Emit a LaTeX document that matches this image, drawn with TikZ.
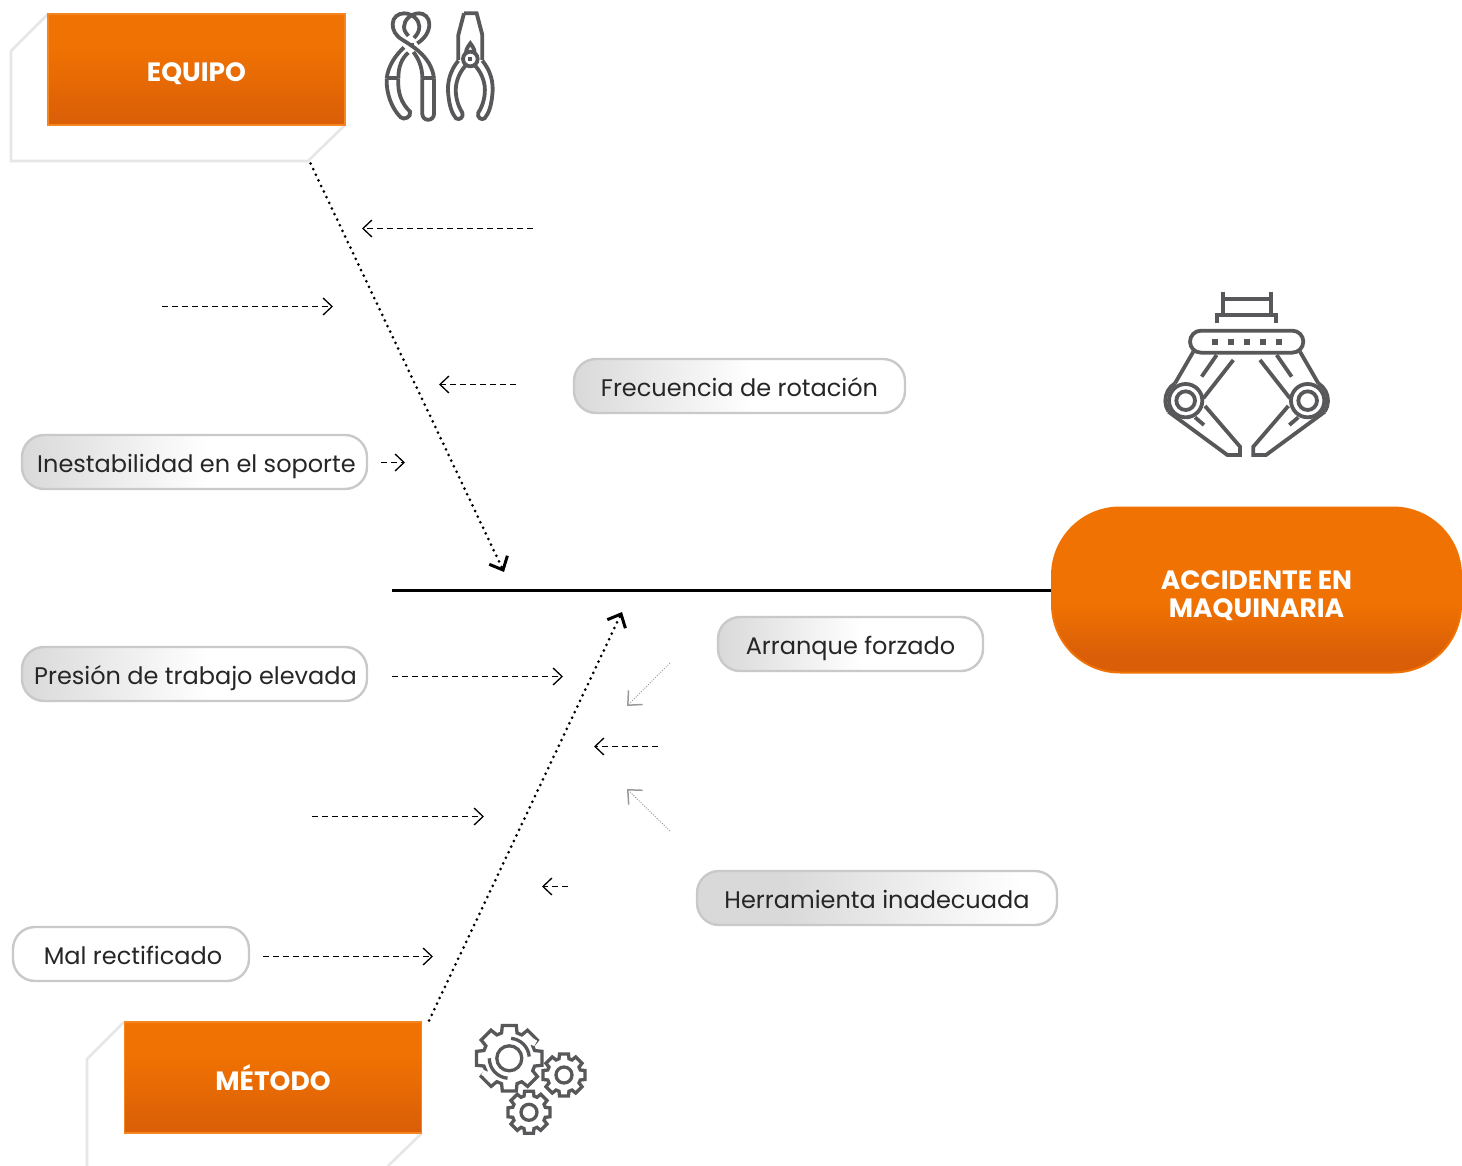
\documentclass[tikz,border=0pt]{standalone}
\usepackage{fontspec}
\setmainfont{Poppins}
\usetikzlibrary{arrows.meta}
\definecolor{orA}{HTML}{F07203}
\definecolor{orB}{HTML}{D95E07}
\definecolor{edgeor}{HTML}{F5851F}
\definecolor{icon}{HTML}{58585A}
\definecolor{pilledge}{HTML}{C9C9C9}
\definecolor{pillgray}{HTML}{D9D9D9}
\definecolor{backl}{HTML}{E6E6E6}
\pgfdeclareverticalshading{headshade}{100bp}{color(0bp)=(orB); color(25bp)=(orB); color(60bp)=(orA); color(100bp)=(orA)}
\pgfdeclareverticalshading{pillshade}{100bp}{color(0bp)=(orB); color(25bp)=(orB); color(30bp)=(orB); color(46bp)=(orA); color(100bp)=(orA)}
\pgfdeclarehorizontalshading{graywhite}{100bp}{color(0bp)=(pillgray); color(25bp)=(pillgray); color(52bp)=(white); color(100bp)=(white)}
\pgfdeclarehorizontalshading{graylong}{100bp}{color(0bp)=(pillgray); color(25bp)=(pillgray); color(37bp)=(pillgray); color(70bp)=(white); color(100bp)=(white)}
\newcommand{\gearshape}[5]{% cx cy router rroot rhole
  \begin{scope}[shift={(#1,#2)}]
    \draw[gearline] (102:#3)
      \foreach \k [evaluate=\k as \aa using 90-45*\k] in {0,...,7}{
        -- ({\aa+12}:#3) -- ({\aa-12}:#3) -- ({\aa-17}:#4) -- ({\aa-28}:#4)
      } -- cycle;
    \draw[gearline] (0,0) circle (#5);
  \end{scope}}
\newcommand{\clawarm}{%
  \draw[iconline] (160,215) -- (105,310);
  \draw[iconline] (230,225) -- (185,290);
  \draw[iconline] (280,240) -- (190,355);
  \draw[iconline] (137,362) circle[radius=50];
  \draw[iconline] (137,362) circle[radius=28];
  \draw[iconline] (105,310) arc[start angle=238.4,end angle=147.6,radius=61];
  \draw[iconline] (85,395) -- (262,525) -- (300,525) -- (300,500) -- (195,378);
  \draw[iconline] (165,412) -- (192,435);
}
\begin{document}
\begin{tikzpicture}[x=1pt,y=-1pt,
  iconline/.style={draw=icon,line width=3.8pt,line join=miter},
  gearline/.style={draw=icon,line width=3.3pt,line join=miter},
  backline/.style={draw=backl,line width=2.6pt},
  headbox/.style={draw=edgeor,line width=1.2pt,shading=headshade,minimum width=297pt,minimum height=111pt,inner sep=0pt,font=\fontsize{26.5}{28}\selectfont\bfseries,text=white,text height=25pt,text depth=0pt},
  pillbox/.style={draw=pilledge,line width=2.4pt,rounded corners=22pt,minimum height=54pt,inner sep=0pt,font=\fontsize{24}{28}\selectfont,text=black!85,text height=20pt,text depth=0pt},
  dasharrow/.style={line width=1.2pt,dash pattern=on 6pt off 4pt,-{Straight Barb[length=9pt,width=17pt,line width=1.3pt]}},
  dotarrow/.style={line width=3pt,line cap=round,dash pattern=on 0pt off 6.2pt,-{Straight Barb[length=11pt,width=20pt,line width=3pt]}},
  faintarrow/.style={draw=black!40,line width=1pt,dash pattern=on 1pt off 1.5pt,-{Straight Barb[length=11pt,width=20pt,line width=1.5pt]}}]
\useasboundingbox (0,0) rectangle (1462,1166);

% back outlines
\draw[backline] (48,14) -- (11,51) -- (11,161) -- (308,161) -- (345,125);
\draw[backline] (124,1022) -- (87,1059) -- (87,1166);
\draw[backline] (422,1133) -- (388,1166);

% heads
\node[headbox] (equipo) at (196.5,69.5) {EQUIPO};
\node[headbox] (metodo) at (273,1077.5) {MÉTODO};
\node[draw=orA,line width=2pt,rounded corners=68pt,shading=pillshade,minimum width=409pt,minimum height=165pt,inner sep=0pt,align=center,font=\fontsize{26.5}{28}\selectfont\bfseries,text=white] (accidente) at (1256.5,590) {\rule{0pt}{31pt}ACCIDENTE EN\\MAQUINARIA};

% pills
\node[pillbox,shading=graywhite,minimum width=331pt] (frec) at (739.5,386) {Frecuencia de rotación};
\node[pillbox,shading=graywhite,minimum width=345pt] (ines) at (194.5,462) {\hspace*{4pt}Inestabilidad en el soporte};
\node[pillbox,shading=graywhite,minimum width=345pt] (pres) at (194.5,674) {\hspace*{2pt}Presión de trabajo elevada};
\node[pillbox,shading=graywhite,minimum width=265pt] (arra) at (850.5,644) {Arranque forzado};
\node[pillbox,shading=graylong,minimum width=360pt] (herr) at (877,898) {Herramienta inadecuada};
\node[pillbox,fill=white,minimum width=236pt] (malr) at (131,954) {\hspace*{4pt}Mal rectificado};

% free ends
\coordinate (spineL) at (392,590.5);
\coordinate (eqS) at ([shift={(-35,38)}]equipo.south east);
\coordinate (eqE) at (504,572);
\coordinate (meS) at ([shift={(7,-1)}]metodo.north east);
\coordinate (meE) at (622,612);
\coordinate (a1s) at (533,228.5); \coordinate (a1e) at (362,228.5);
\coordinate (a2s) at (162,306.5); \coordinate (a2e) at (333,306.5);
\coordinate (a3s) at ([shift={(-57,-1.5)}]frec.west); \coordinate (a3e) at (439,384.5);
\coordinate (a4s) at ([shift={(13,0.5)}]ines.east); \coordinate (a4e) at (405,462.5);
\coordinate (a5s) at ([shift={(24,2.5)}]pres.east); \coordinate (a5e) at (563,676.5);
\coordinate (a6s) at (658,746.5); \coordinate (a6e) at (594,746.5);
\coordinate (a7s) at (312,816.5); \coordinate (a7e) at (484,816.5);
\coordinate (a8s) at (568,886.5); \coordinate (a8e) at (542,886.5);
\coordinate (a9s) at ([shift={(13,2.5)}]malr.east); \coordinate (a9e) at (433,956.5);
\coordinate (f1s) at (670,663); \coordinate (f1e) at (627,706);
\coordinate (f2s) at (670,831); \coordinate (f2e) at (627,789);

% connectors
\draw[line width=2.6pt] (spineL) -- (spineL -| accidente.west);
\draw[dotarrow] (eqS) -- (eqE);
\draw[dotarrow] (meS) -- (meE);
\foreach \n in {1,...,9}{\draw[dasharrow] (a\n s) -- (a\n e);}
\draw[faintarrow] (f1s) -- (f1e);
\draw[faintarrow] (f2s) -- (f2e);

% pliers icon (zoom coordinates / 3)
\begin{scope}[shift={(380,10)},x=0.3333pt,y=-0.3333pt,every path/.append style={line join=round}]
  \draw[iconline] (162,205) .. controls (155,150) and (115,118) .. (68,90) .. controls (45,76) and (38,60) .. (38,42) .. controls (38,22) and (55,10) .. (72,10) .. controls (97,10) and (118,30) .. (118,50) .. controls (118,65) and (110,75) .. (102,84);
  \draw[iconline] (20,205) .. controls (25,165) and (48,135) .. (72,112);
  \draw[iconline] (112,100) .. controls (135,85) and (148,65) .. (148,42) .. controls (148,22) and (132,10) .. (118,10) .. controls (93,10) and (72,30) .. (72,50) .. controls (72,62) and (78,70) .. (85,78);
  \draw[iconline] (55,205) .. controls (55,170) and (65,145) .. (85,128);
  \draw[iconline] (127,205) .. controls (127,170) and (115,145) .. (100,126);
  \draw[iconline] (20,205) -- (55,205);
  \draw[iconline] (127,205) -- (162,205);
  \draw[iconline] (20,205) .. controls (18,250) and (35,295) .. (62,322) .. controls (72,332) and (95,320) .. (90,305) .. controls (65,280) and (52,250) .. (55,205);
  \draw[iconline] (127,205) -- (127,312) arc[start angle=180,end angle=0,radius=17.5] -- (162,205);
  \fill[icon] (90,98) rectangle (103,111);
  % second plier
  \draw[iconline] (252,10) -- (290,10) -- (307,75) -- (307,150);
  \draw[iconline] (252,10) -- (235,75) -- (235,150);
  \draw[iconline] (258,128) .. controls (258,115) and (268,105) .. (271,100) .. controls (274,105) and (284,115) .. (284,128);
  \draw[iconline] (271,147) circle[radius=22];
  \fill[icon] (265,140) rectangle (277,152);
  \draw[iconline] (235,152) .. controls (212,180) and (200,215) .. (205,255) .. controls (208,285) and (215,310) .. (228,325) .. controls (238,332) and (252,322) .. (247,308) .. controls (232,285) and (225,255) .. (228,228) .. controls (232,200) and (245,180) .. (258,165);
  \draw[iconline] (307,152) .. controls (330,180) and (342,215) .. (337,255) .. controls (334,285) and (327,310) .. (314,325) .. controls (304,332) and (290,322) .. (295,308) .. controls (310,285) and (317,255) .. (314,228) .. controls (310,200) and (297,180) .. (284,165);
\end{scope}

% robot claw icon
\begin{scope}[shift={(1140,280)},x=0.3333pt,y=-0.3333pt]
  \draw[iconline] (248,35) -- (248,105);
  \draw[iconline] (392,35) -- (392,105);
  \draw[iconline] (248,58) -- (392,58);
  \draw[iconline] (232,130) -- (232,105) -- (408,105) -- (408,130);
  \clawarm
  \begin{scope}[shift={(640,0)},xscale=-1]\clawarm\end{scope}
  \draw[iconline,fill=white,rounded corners=11pt] (150,152) rectangle (490,218);
  \foreach \dx in {225,273,321,369,417}{\fill[icon] (\dx-9,176) rectangle (\dx+9,194);}
\end{scope}

% gears icon
\gearshape{509.3}{1058.3}{33.5}{26.5}{12.5}
\gearshape{564}{1075}{21.5}{17}{8}
\gearshape{529}{1112.3}{21.5}{17}{8}
\draw[gearline] (509.3,1058.3) ++(-85:20) arc[start angle=-85,end angle=-5,radius=20];
\draw[gearline] (509.3,1058.3) ++(180:20) arc[start angle=180,end angle=95,radius=20];
\draw[white,line width=5pt] (535,1039.5) -- (532,1045);
\draw[white,line width=5pt] (486,1071) -- (483.5,1076);
\end{tikzpicture}
\end{document}
